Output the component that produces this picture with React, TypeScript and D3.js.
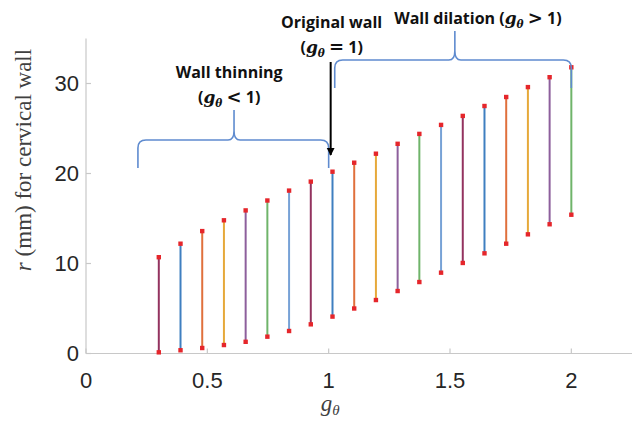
import React from 'react';
import * as d3 from 'd3';

// g_theta values (linspace 0.3..2, 20 points)
const gTheta = d3.range(20).map(i => 0.3 + i * (1.7 / 19));
// outer radius (top of each stem), mm
const rOuter = [10.7, 12.2, 13.6, 14.8, 15.9, 17.0, 18.1, 19.1, 20.2, 21.2,
  22.2, 23.3, 24.4, 25.4, 26.4, 27.5, 28.5, 29.6, 30.7, 31.8];
// inner radius (bottom of each stem), mm
const rInner = [0.13, 0.36, 0.61, 0.94, 1.3, 1.87, 2.5, 3.24, 4.1, 5.0,
  5.94, 6.94, 7.94, 8.98, 10.06, 11.13, 12.2, 13.24, 14.36, 15.42];
// stem colours, matlab order starting from the dark red one
const stemColors = ['#93335f', '#3f7fc0', '#e0703c', '#e6a93a', '#8d5f9c', '#6fb46a', '#77a2d6'];

const xTicks = [0, 0.5, 1, 1.5, 2];
const yTicks = [0, 10, 20, 30];

const W = 635, H = 428;
const margin = { left: 86, right: 3, top: 38.5, bottom: 74.5 };

const App = () => {
  const x = d3.scaleLinear().domain([0, 2.25]).range([margin.left, W - margin.right]);
  const y = d3.scaleLinear().domain([0, 35]).range([H - margin.bottom, margin.top]);
  const x0 = x(0), y0 = y(0);
  const axisColor = '#c8c8c8';
  const braceColor = '#5f8bcf';

  // curly brace opening downward: from xa to xb, bar at yb, ends down to ye, peak up to yp at xp
  const brace = (xa, xb, xp, yb, ye, yp) => {
    const r = 8;
    return `M${xa},${ye} L${xa},${yb + r} Q${xa},${yb} ${xa + r},${yb}` +
      ` L${xp - 6},${yb} Q${xp},${yb} ${xp},${yb - 9} L${xp},${yp}` +
      ` M${xp},${yb - 9} Q${xp},${yb} ${xp + 6},${yb} L${xb - r},${yb}` +
      ` Q${xb},${yb} ${xb},${yb + r} L${xb},${ye}`;
  };

  const annFont = "'Open Sans', 'Liberation Sans', sans-serif";
  const gSym = (sz) => (
    <>
      <tspan fontFamily="'DejaVu Serif', serif" fontStyle="italic" fontWeight="bold" fontSize={sz}>g</tspan>
      <tspan fontFamily="'DejaVu Serif', serif" fontStyle="italic" fontWeight="bold" fontSize={sz * 0.62} dy={4}>θ</tspan>
      <tspan dy={-4}> </tspan>
    </>
  );
  const rel = (s) => (
    <tspan fontFamily="'DejaVu Sans', sans-serif" fontSize={18}>{s}</tspan>
  );

  return (
    <svg width={W} height={H} style={{ position: 'absolute', left: 0, top: 0, background: '#fff' }}>
      {/* axes */}
      <line x1={x0} x2={x0} y1={y(35)} y2={y0} stroke={axisColor} strokeWidth={1.2} />
      <line x1={x0} x2={x(2.25)} y1={y0} y2={y0} stroke={axisColor} strokeWidth={1.2} />
      {yTicks.map(t => (
        <g key={'y' + t}>
          <line x1={x0} x2={x0 + 5} y1={y(t)} y2={y(t)} stroke={axisColor} strokeWidth={1.2} />
          <text x={x0 - 7} y={y(t)} dy="0.36em" textAnchor="end" fontFamily="'Liberation Sans', Arial, sans-serif" fontSize={22} fill="#262626">{t}</text>
        </g>
      ))}
      {xTicks.map(t => (
        <g key={'x' + t}>
          <line x1={x(t)} x2={x(t)} y1={y0} y2={y0 - 5} stroke={axisColor} strokeWidth={1.2} />
          <text x={x(t)} y={y0 + 27} dy="0.36em" textAnchor="middle" fontFamily="'Liberation Sans', Arial, sans-serif" fontSize={22} fill="#262626">{t}</text>
        </g>
      ))}

      {/* axis labels */}
      <text transform={`translate(31,${160}) rotate(-90)`} textAnchor="middle" fontFamily="'Liberation Serif', 'DejaVu Serif', serif" fontSize={23} fill="#404040">
        <tspan fontStyle="italic">r</tspan> (mm) for cervical wall
      </text>
      <text x={x(1) - 8} y={411} fontFamily="'Liberation Serif', serif" fontStyle="italic" fontSize={23} fill="#404040">
        g<tspan fontSize={15} dy={4}>θ</tspan>
      </text>

      {/* stems */}
      {gTheta.map((g, i) => (
        <g key={i}>
          <line x1={x(g)} x2={x(g)} y1={y(rInner[i])} y2={y(rOuter[i])} stroke={stemColors[i % stemColors.length]} strokeWidth={2} />
          <rect x={x(g) - 2.2} y={y(rOuter[i]) - 2.2} width={4.4} height={4.4} fill="#e5262b" />
          <rect x={x(g) - 2.2} y={y(rInner[i]) - 2.2} width={4.4} height={4.4} fill="#e5262b" />
        </g>
      ))}

      {/* braces */}
      <path d={brace(x(0.214), x(1.0), x(0.61), 140, 168, 110)} fill="none" stroke={braceColor} strokeWidth={1.6} />
      <path d={brace(x(1.025), x(2.0), x(1.52), 60, 88, 31)} fill="none" stroke={braceColor} strokeWidth={1.6} />

      {/* arrow at original wall */}
      <defs>
        <marker id="ah" viewBox="0 0 10 10" refX={9} refY={5} markerWidth={4} markerHeight={5} orient="auto">
          <path d="M0,0 L10,5 L0,10 z" fill="#000" />
        </marker>
      </defs>
      <line x1={x(1) + 2} x2={x(1) + 2} y1={62} y2={155} stroke="#000" strokeWidth={2} markerEnd="url(#ah)" />

      {/* annotation text */}
      <g fontFamily={annFont} fontWeight="bold" fontSize={16} fill="#111" textAnchor="middle">
        <text x={x(1) + 3} y={28}>Original wall</text>
        <text x={x(1) + 3} y={53}>({gSym(17)}{rel('=')} 1)</text>
        <text x={x(0.59)} y={78}>Wall thinning</text>
        <text x={x(0.59)} y={103}>({gSym(17)}{rel('<')} 1)</text>
        <text x={x(1.615)} y={24}>Wall dilation ({gSym(17)}{rel('>')} 1)</text>
      </g>
    </svg>
  );
};

export default App;
